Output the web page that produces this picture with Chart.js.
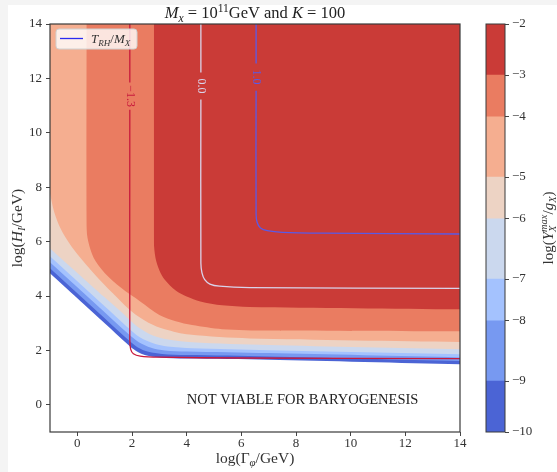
<!DOCTYPE html>
<html>
<head>
<meta charset="utf-8">
<script src="https://cdn.jsdelivr.net/npm/chart.js@4.4.1/dist/chart.umd.min.js"></script>
<style>
  html, body { margin: 0; padding: 0; background: #f4f4f4; }
  #fig { position: absolute; left: 8px; top: 5px; width: 549px; height: 467px; background: #fff; }
  #main { position: absolute; left: 0; top: 0; }
  #cbar { position: absolute; left: 470px; top: 0; }
</style>
</head>
<body>
<div id="fig"></div>
<canvas id="main" width="470" height="472"></canvas>
<canvas id="cbar" width="87" height="472"></canvas>
<script>
const xTicks = [0, 2, 4, 6, 8, 10, 12, 14];
const yTicks = [0, 2, 4, 6, 8, 10, 12, 14];

// contourf levels of log(Y_X^max / g_X) and the colour of each band between them
const levels = [-10, -9, -7.82, -7, -5.82, -5, -3.82, -3, -2];
const bandColors = ['#4b64d5', '#7799f1', '#a4c2fe', '#cbd8ee', '#edd3c4', '#f5ae90', '#ea7c61', '#ca3b37'];

// lower edge of each level, as (log Gamma, log H) points
const edgeM10 = [[-1, 4.84], [0, 3.92], [1, 3.0], [1.85, 2.22], [2.15, 1.98], [2.5, 1.82], [3.0, 1.74], [4, 1.70], [7, 1.66], [14, 1.49]];
const edgeM9 = [[-1, 5.02], [0, 4.10], [1, 3.18], [1.85, 2.40], [2.2, 2.12], [2.6, 1.95], [3.1, 1.87], [4, 1.83], [7, 1.78], [14, 1.61]];
const edgeM782 = [[-1, 5.24], [0, 4.32], [1, 3.40], [1.85, 2.62], [2.25, 2.30], [2.7, 2.10], [3.2, 2.00], [4, 1.96], [7, 1.90], [14, 1.74]];
const edgeM7 = [[-1, 5.46], [0, 4.54], [1, 3.62], [1.8, 2.88], [2.3, 2.47], [2.8, 2.25], [3.3, 2.14], [4.2, 2.08], [7, 2.01], [14, 1.86]];
const edgeM582 = [[-1, 5.75], [0, 4.85], [1, 3.95], [1.6, 3.42], [2.1, 2.95], [2.6, 2.62], [3.2, 2.42], [4.2, 2.30], [7, 2.20], [14, 2.04]];
const edgeM5 = [[-1, 7.78], [-0.85, 7.1], [-0.6, 6.45], [-0.2, 5.8], [0.5, 4.95], [1.3, 4.1], [2.0, 3.42], [2.6, 3.02], [3.2, 2.78], [4.1, 2.58], [6.3, 2.44], [14, 2.31]];
const edgeM382 = [[0.33, 14], [0.33, 6.6], [0.4, 6.0], [0.6, 5.4], [1.0, 4.85], [1.6, 4.3], [2.3, 3.8], [3.0, 3.3], [3.6, 3.07], [4.2, 2.93], [5.3, 2.78], [7, 2.73], [14, 2.70]];
const edgeM3 = [[2.80, 14], [2.80, 6.0], [2.86, 5.4], [3.0, 4.95], [3.2, 4.6], [3.6, 4.2], [4.0, 3.98], [4.5, 3.8], [5.3, 3.66], [6.3, 3.60], [14, 3.51]];
const edges = [edgeM10, edgeM9, edgeM782, edgeM7, edgeM582, edgeM5, edgeM382, edgeM3];

// T_RH / M_X contour lines
const lineLevels = [-1.3, 0.0, 1.0];
const lineM13 = [[1.92, 14], [1.92, 2.4], [1.95, 2.05], [2.05, 1.88], [2.3, 1.79], [3, 1.75], [6, 1.72], [14, 1.70]];
const line00 = [[4.52, 14], [4.52, 5.2], [4.56, 4.85], [4.66, 4.6], [4.85, 4.44], [5.2, 4.36], [6.3, 4.31], [14, 4.28]];
const line10 = [[6.54, 14], [6.54, 7.0], [6.58, 6.7], [6.7, 6.5], [6.95, 6.4], [7.5, 6.34], [9, 6.31], [14, 6.28]];
const contourLines = [lineM13, line00, line10];
const labelY = [11.35, 11.72, 12.05];
const lineColors = ['#c8193c', '#d9d3ea', '#5a5ae6'];

const noteText = 'NOT VIABLE FOR BARYOGENESIS';
const noteAt = [8.24, 0.17];

const SERIF = '"Liberation Serif", "DejaVu Serif", serif';
const INK = '#333';

const titleParts = [{ t: 'M', it: 1 }, { t: 'x', it: 1, sub: 1 }, { t: ' = 10' }, { t: '11', sup: 1 }, { t: 'GeV and ' }, { t: 'K', it: 1 }, { t: ' = 100' }];
const xTitleParts = [{ t: 'log(Γ' }, { t: 'φ', it: 1, sub: 1 }, { t: '/GeV)' }];
const yTitleParts = [{ t: 'log(' }, { t: 'H', it: 1 }, { t: 'I', it: 1, sub: 1 }, { t: '/GeV)' }];
const cbTitleParts = [{ t: 'log(' }, { t: 'Y', it: 1 }, { t: 'max', it: 1, sup: 1, hold: 1 }, { t: 'X', it: 1, sub: 1 }, { t: '/' }, { t: 'g', it: 1 }, { t: 'X', it: 1, sub: 1 }, { t: ')' }];
const legendParts = [{ t: 'T', it: 1 }, { t: 'RH', it: 1, sub: 1 }, { t: '/' }, { t: 'M', it: 1 }, { t: 'X', it: 1, sub: 1 }];

function fontOf(p, size) {
  const s = (p.sub || p.sup) ? size * 0.7 : size;
  return (p.it ? 'italic ' : '') + s + 'px ' + SERIF;
}

function richWidth(ctx, parts, size) {
  let w = 0, held = 0;
  parts.forEach(p => {
    ctx.font = fontOf(p, size);
    const pw = ctx.measureText(p.t).width;
    if (p.hold) { held = pw; return; }
    w += Math.max(pw, held);
    held = 0;
  });
  return w;
}

// x is where the text starts (or its centre when centred), y the baseline
function drawRich(ctx, parts, x, y, size, color, centred = true) {
  let cx = centred ? x - richWidth(ctx, parts, size) / 2 : x, held = 0;
  ctx.fillStyle = color;
  ctx.textAlign = 'left';
  ctx.textBaseline = 'alphabetic';
  parts.forEach(p => {
    ctx.font = fontOf(p, size);
    const dy = p.sub ? size * 0.22 : p.sup ? -size * 0.38 : 0;
    ctx.fillText(p.t, cx, y + dy);
    const pw = ctx.measureText(p.t).width;
    if (p.hold) { held = pw; return; }
    cx += Math.max(pw, held);
    held = 0;
  });
}

// leave a hole in the vertical part of a contour line for its label
function withGap(pts, yc, half) {
  const out = [];
  pts.forEach((p, i) => {
    out.push({ x: p[0], y: p[1] });
    const next = pts[i + 1];
    if (next && p[1] > yc + half && next[1] < yc - half) {
      out.push({ x: p[0], y: yc + half }, { x: p[0], y: null }, { x: p[0], y: yc - half });
    }
  });
  return out;
}

const datasets = [];
contourLines.forEach((pts, i) => {
  datasets.push({
    data: withGap(pts, labelY[i], 0.5),
    borderColor: lineColors[i],
    borderWidth: 1.3,
    fill: false,
    tension: 0.3,
    spanGaps: false,
    order: 0
  });
});
edges.forEach((pts, i) => {
  datasets.push({
    data: pts.map(p => ({ x: p[0], y: p[1] })),
    borderColor: 'rgba(0,0,0,0)',
    borderWidth: 1,
    backgroundColor: bandColors[i],
    fill: 'end',
    tension: 0.3,
    order: 10 - i
  });
});

const tickFont = { family: SERIF, size: 13 };

const mainDecor = {
  id: 'mainDecor',
  afterDraw(chart) {
    const { ctx, chartArea: a, scales: { x, y } } = chart;
    const midX = (a.left + a.right) / 2;
    ctx.save();
    ctx.strokeStyle = '#3a3a3a';
    ctx.lineWidth = 1.2;
    ctx.strokeRect(a.left, a.top, a.right - a.left, a.bottom - a.top);

    drawRich(ctx, titleParts, midX, a.top - 6, 16.5, '#222');
    drawRich(ctx, xTitleParts, midX, 463, 15.5, INK);
    ctx.save();
    ctx.translate(22, (a.top + a.bottom) / 2);
    ctx.rotate(-Math.PI / 2);
    drawRich(ctx, yTitleParts, 0, 0, 15.5, INK);
    ctx.restore();

    // inline level labels on the contour lines
    lineLevels.forEach((lv, i) => {
      ctx.save();
      ctx.translate(x.getPixelForValue(contourLines[i][0][0]), y.getPixelForValue(labelY[i]));
      ctx.rotate(Math.PI / 2);
      ctx.font = '12px ' + SERIF;
      ctx.fillStyle = lineColors[i];
      ctx.textAlign = 'center';
      ctx.textBaseline = 'middle';
      ctx.fillText(lv.toFixed(1).replace('-', '−'), 0, 0);
      ctx.restore();
    });

    ctx.font = '14.5px ' + SERIF;
    ctx.fillStyle = '#222';
    ctx.textAlign = 'center';
    ctx.textBaseline = 'middle';
    ctx.fillText(noteText, x.getPixelForValue(noteAt[0]), y.getPixelForValue(noteAt[1]));

    // legend box
    const lx = a.left + 6, ly = a.top + 5, lw = 81, lh = 20;
    ctx.beginPath();
    ctx.roundRect(lx, ly, lw, lh, 3);
    ctx.fillStyle = 'rgba(255,255,255,0.8)';
    ctx.fill();
    ctx.strokeStyle = '#d0d0d0';
    ctx.lineWidth = 1;
    ctx.stroke();
    ctx.beginPath();
    ctx.moveTo(lx + 4, ly + 9.5);
    ctx.lineTo(lx + 27, ly + 9.5);
    ctx.strokeStyle = '#2b2bf0';
    ctx.lineWidth = 1.3;
    ctx.stroke();
    drawRich(ctx, legendParts, lx + 35, ly + 14, 13, INK, false);
    ctx.restore();
  }
};

new Chart(document.getElementById('main'), {
  type: 'line',
  data: { datasets },
  options: {
    responsive: false,
    animation: false,
    devicePixelRatio: 1,
    layout: { padding: { top: 24, right: 10, left: 0, bottom: 0 } },
    elements: { point: { radius: 0, hoverRadius: 0 } },
    plugins: { legend: { display: false }, tooltip: { enabled: false } },
    scales: {
      x: {
        type: 'linear', min: -1, max: 14,
        afterBuildTicks: s => { s.ticks = xTicks.map(v => ({ value: v })); },
        afterFit: s => { s.height = 40; },
        ticks: { font: tickFont, color: INK, padding: 0, maxRotation: 0 },
        grid: { drawOnChartArea: false, tickLength: 4, color: '#444' },
        border: { display: false }
      },
      y: {
        type: 'linear', min: -1, max: 14,
        afterBuildTicks: s => { s.ticks = yTicks.map(v => ({ value: v })); },
        afterFit: s => { s.width = 50; },
        ticks: { font: tickFont, color: INK, padding: 4 },
        grid: { drawOnChartArea: false, tickLength: 4, color: '#444' },
        border: { display: false }
      }
    }
  },
  plugins: [mainDecor]
});

const cbarDecor = {
  id: 'cbarDecor',
  afterDraw(chart) {
    const { ctx, chartArea: a } = chart;
    ctx.save();
    ctx.strokeStyle = '#3a3a3a';
    ctx.lineWidth = 1;
    ctx.strokeRect(a.left, a.top, a.right - a.left, a.bottom - a.top);
    ctx.translate(83, (a.top + a.bottom) / 2);
    ctx.rotate(-Math.PI / 2);
    drawRich(ctx, cbTitleParts, 0, 0, 15, INK);
    ctx.restore();
  }
};

new Chart(document.getElementById('cbar'), {
  type: 'bar',
  data: {
    labels: [''],
    datasets: bandColors.map((c, i) => ({
      data: [[levels[i], levels[i + 1]]],
      backgroundColor: c,
      borderWidth: 0,
      barPercentage: 1,
      categoryPercentage: 1,
      grouped: false
    }))
  },
  options: {
    responsive: false,
    animation: false,
    devicePixelRatio: 1,
    layout: { padding: { left: 16, top: 24, bottom: 40, right: 0 } },
    plugins: { legend: { display: false }, tooltip: { enabled: false } },
    scales: {
      x: { display: false },
      y: {
        position: 'right', min: -10, max: -2,
        afterBuildTicks: s => { s.ticks = levels.map(v => ({ value: v })); },
        afterFit: s => { s.width = 52; },
        ticks: { font: tickFont, color: INK, padding: 3, callback: v => '−' + Math.abs(Math.round(v)) },
        grid: { drawOnChartArea: false, tickLength: 4, color: '#444' },
        border: { display: false }
      }
    }
  },
  plugins: [cbarDecor]
});
</script>
</body>
</html>
